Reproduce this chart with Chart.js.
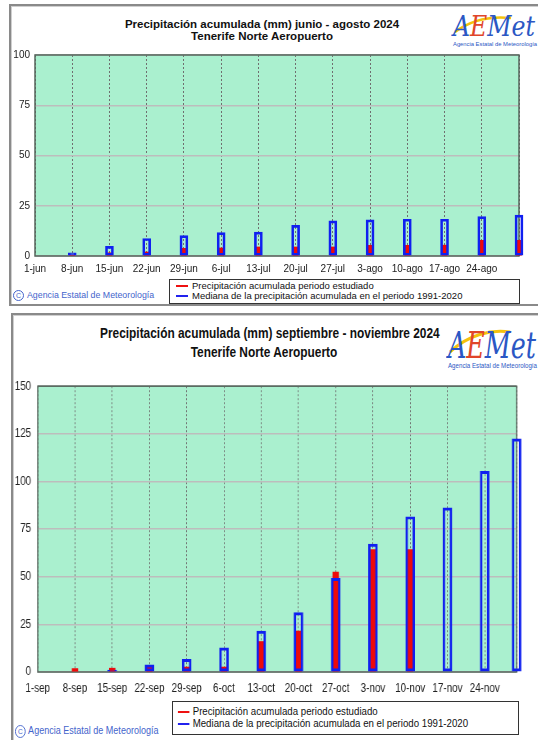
<!DOCTYPE html>
<html>
<head>
<meta charset="utf-8">
<script src="https://cdn.jsdelivr.net/npm/chart.js@4.4.1/dist/chart.umd.min.js"></script>
<style>
  body { margin: 0; background: #fff; width: 538px; height: 740px; overflow: hidden; position: relative; font-family: "Liberation Sans", Arial, sans-serif; }
  .panel { position: absolute; border: 2px solid #8a8a8a; box-shadow: 1px 1px 0 #cfcfcf inset; background: #fff; }
  .abs { position: absolute; }
  .title { position: absolute; text-align: center; font-weight: bold; color: #111; white-space: nowrap; }
  .legend { position: absolute; border: 1px solid #333; background: #fff; color: #111; }
  .legend div { white-space: nowrap; }
  .dash { display: inline-block; width: 12px; height: 2px; vertical-align: middle; margin: 0 4px 0 6px; }
  .copy { position: absolute; color: #4464cc; white-space: nowrap; }
  .copy span { display: inline-block; border: 1px solid #4464cc; border-radius: 50%; text-align: center; margin-right: 3px; }
  .narrow { transform: scaleX(0.82); }
</style>
</head>
<body>

<div class="panel" style="left:9px;top:4px;width:540px;height:298px;"></div>
<div class="panel" style="left:11px;top:313px;width:540px;height:440px;"></div>

<div class="title" style="left:62px;top:18px;width:400px;font-size:11.5px;line-height:12px;">
  Precipitación acumulada (mm) junio - agosto 2024<br>Tenerife Norte Aeropuerto
</div>

<svg class="abs" style="left:451px;top:5px" width="87" height="44">
  <path d="M4,27 C20,15 40,11 60,13" stroke="#f4c20d" stroke-width="2.5" fill="none"/>
  <text x="2" y="31" font-family="DejaVu Serif" font-style="italic" font-size="28" fill="#2b57c4" textLength="82" lengthAdjust="spacingAndGlyphs">A<tspan fill="#e0452a">E</tspan>Met</text>
  <text x="2" y="41" font-family="Liberation Sans" font-size="5.4" fill="#2b57c4" textLength="84" lengthAdjust="spacingAndGlyphs">Agencia Estatal de Meteorología</text>
</svg>

<canvas id="topChart" class="abs" style="left:0;top:44px;"></canvas>

<div class="copy" style="left:13px;top:290px;font-size:8.8px;"><span style="width:9px;height:9px;line-height:9px;font-size:7px;">C</span>Agencia Estatal de Meteorología</div>
<div class="legend" style="left:169px;top:279px;width:349px;height:22px;font-size:9.5px;line-height:10px;padding-top:1px;">
  <div><span class="dash" style="background:#ee1111"></span>Precipitación acumulada periodo estudiado</div>
  <div><span class="dash" style="background:#2222ee"></span>Mediana de la precipitación acumulada en el periodo 1991-2020</div>
</div>

<div class="title narrow" style="left:64px;top:324px;width:400px;font-size:14.5px;line-height:19px;transform-origin:200px 0;">
  Precipitación acumulada (mm) septiembre - noviembre 2024<br>Tenerife Norte Aeropuerto
</div>

<svg class="abs" style="left:446px;top:314px" width="92" height="58">
  <path d="M4,38 C22,21 45,15 64,18" stroke="#f4c20d" stroke-width="3" fill="none"/>
  <text x="2" y="44" font-family="DejaVu Serif" font-style="italic" font-size="38" fill="#2b57c4" textLength="88" lengthAdjust="spacingAndGlyphs">A<tspan fill="#e0452a">E</tspan>Met</text>
  <text x="2" y="54" font-family="Liberation Sans" font-size="6.3" fill="#2b57c4" textLength="89" lengthAdjust="spacingAndGlyphs">Agencia Estatal de Meteorología</text>
</svg>

<canvas id="botChart" class="abs narrow" style="left:0;top:371px;transform-origin:0 0;"></canvas>

<div class="legend" style="left:172px;top:701px;width:345px;height:32px;">
  <div class="narrow" style="transform-origin:0 0;font-size:11.8px;line-height:12px;padding-top:3px;">
    <div><span class="dash" style="background:#ee1111;width:14px"></span>Precipitación acumulada periodo estudiado</div>
    <div><span class="dash" style="background:#2222ee;width:14px"></span>Mediana de la precipitación acumulada en el periodo 1991-2020</div>
  </div>
</div>
<div class="copy narrow" style="left:15px;top:724px;font-size:11px;transform-origin:0 0;"><span style="width:11px;height:11px;line-height:11px;font-size:8px;">C</span>Agencia Estatal de Meteorología</div>

<script>
// junio - agosto 2024 (día desde el 1 de junio)
const topTicks = ['1-jun', '8-jun', '15-jun', '22-jun', '29-jun', '6-jul', '13-jul', '20-jul', '27-jul', '3-ago', '10-ago', '17-ago', '24-ago'];
const topDays = [7, 14, 21, 28, 35, 42, 49, 56, 63, 70, 77, 84, 91];
const topMedian = [1.6, 4.8, 8.7, 10.1, 11.6, 11.9, 15.2, 17.5, 18.0, 18.3, 18.3, 19.6, 20.3];
const topObserved = [0.4, 1.6, 2.0, 3.8, 4.0, 4.5, 4.5, 4.5, 5.3, 5.3, 5.4, 7.8, 7.8];

// septiembre - noviembre 2024 (día desde el 1 de septiembre)
const botTicks = ['1-sep', '8-sep', '15-sep', '22-sep', '29-sep', '6-oct', '13-oct', '20-oct', '27-oct', '3-nov', '10-nov', '17-nov', '24-nov'];
const botDays = [7, 14, 21, 28, 35, 42, 49, 56, 63, 70, 77, 84, 90];
const botMedian = [0, 1.0, 3.8, 6.6, 12.7, 21.5, 31.2, 49.2, 67.1, 81.5, 86.2, 105.3, 122.4];
const botObserved = [1.8, 2.0, 2.6, 2.6, 2.6, 16.0, 21.5, 52.4, 64.2, 64.2, null, null, null];

const plotBg = {
    id: 'plotBg',
    beforeDraw(chart) {
        const a = chart.chartArea, ctx = chart.ctx;
        ctx.save();
        ctx.fillStyle = '#aaf0cf';
        ctx.fillRect(a.left, a.top, a.right - a.left, a.bottom - a.top);
        ctx.restore();
    },
    beforeDatasetsDraw(chart) {
        const a = chart.chartArea, ctx = chart.ctx;
        ctx.save();
        ctx.strokeStyle = '#56665c';
        ctx.lineWidth = 1.5;
        ctx.strokeRect(a.left, a.top, a.right - a.left, a.bottom - a.top);
        ctx.restore();
    }
};

function makeChart(id, cfg) {
    const el = document.getElementById(id);
    el.width = cfg.width;
    el.height = cfg.height;
    el.style.width = cfg.width + 'px';
    el.style.height = cfg.height + 'px';
    const pts = (days, vals) => days.map((d, i) => ({ x: d, y: vals[i] }));
    return new Chart(el.getContext('2d'), {
        type: 'bar',
        data: {
            datasets: [{
                label: 'Mediana de la precipitación acumulada en el periodo 1991-2020',
                data: pts(cfg.days, cfg.median),
                backgroundColor: 'rgba(0,0,0,0)',
                borderColor: '#1020f0',
                borderWidth: cfg.blueBorder,
                borderSkipped: false,
                barThickness: cfg.blueW,
                grouped: false,
                clip: false
            }, {
                label: 'Precipitación acumulada periodo estudiado',
                data: pts(cfg.days, cfg.observed),
                backgroundColor: '#ee0a0a',
                borderWidth: 0,
                barThickness: cfg.redW,
                grouped: false,
                clip: false
            }]
        },
        options: {
            responsive: false,
            animation: false,
            events: [],
            layout: { padding: { top: cfg.padTop, right: cfg.padRight, left: 0, bottom: 0 } },
            plugins: { legend: { display: false }, tooltip: { enabled: false } },
            scales: {
                x: {
                    type: 'linear', min: 0, max: cfg.maxDay, offset: false,
                    afterFit: s => { s.height = cfg.xH; },
                    border: { display: false, dash: [2, 2] },
                    grid: { offset: false, color: '#6f6f6f', lineWidth: 1, drawTicks: false },
                    ticks: {
                        stepSize: 7, autoSkip: false, maxRotation: 0, padding: cfg.xPad, color: '#222',
                        font: { family: 'Liberation Sans', size: cfg.fontSize },
                        callback: v => cfg.ticks[v / 7] ?? ''
                    }
                },
                y: {
                    min: 0, max: cfg.maxY,
                    afterFit: s => { s.width = cfg.yW; },
                    border: { display: false },
                    grid: { color: '#bdbdbd', lineWidth: 1.5, drawTicks: false },
                    ticks: { stepSize: 25, padding: cfg.yPad, color: '#222', font: { family: 'Liberation Sans', size: cfg.fontSize } }
                }
            }
        },
        plugins: [plotBg]
    });
}

const topChart = makeChart('topChart', {
    width: 538, height: 232, padTop: 10, padRight: 19, xH: 20, yW: 35, xPad: 7, yPad: 5,
    maxDay: 91, maxY: 100, days: topDays, median: topMedian, observed: topObserved, ticks: topTicks,
    blueW: 8, blueBorder: 2, redW: 5, fontSize: 10
});

// el gráfico de otoño está comprimido en horizontal (scaleX 0.82)
const botChart = makeChart('botChart', {
    width: 656, height: 323, padTop: 12, padRight: 26, xH: 22, yW: 46, xPad: 9, yPad: 8,
    maxDay: 90, maxY: 150, days: botDays, median: botMedian, observed: botObserved, ticks: botTicks,
    blueW: 11, blueBorder: 2.3, redW: 7, fontSize: 12
});
</script>
</body>
</html>
